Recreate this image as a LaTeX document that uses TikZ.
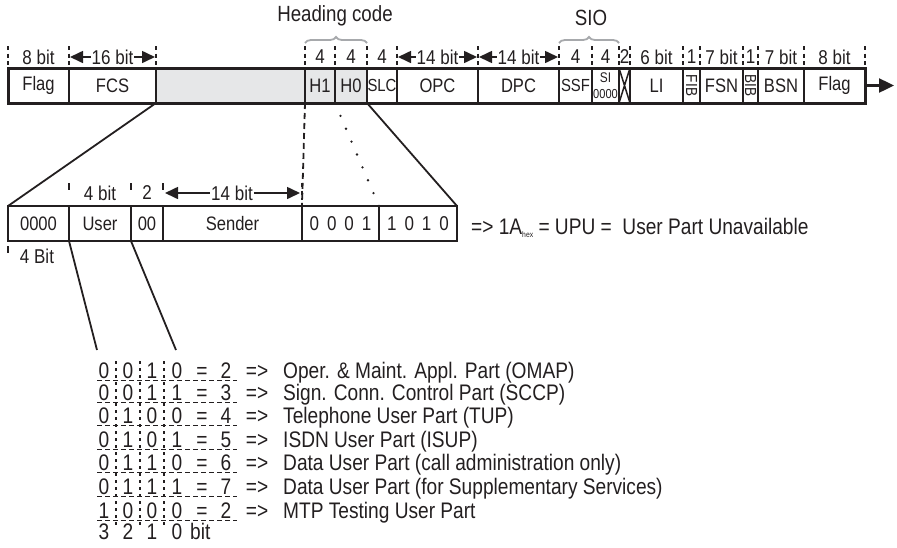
\documentclass[tikz,border=0pt]{standalone}
\usepackage{fontspec}
\setmainfont{Liberation Sans}[FakeStretch=0.85]
\usepackage{graphicx}
\usetikzlibrary{arrows.meta,decorations.pathreplacing}
\definecolor{ink}{HTML}{231F20}
\definecolor{lgray}{HTML}{E6E7E8}
\definecolor{brc}{HTML}{A7A9AC}
\newcommand{\fs}[1]{\fontsize{#1}{#1}\selectfont}
\begin{document}
\begin{tikzpicture}[x=1pt,y=-1pt,
 fld/.style={draw=ink,line width=2.2pt,fill=white,inner sep=0pt,outer sep=0pt,minimum height=35pt,anchor=west,font=\fs{19.5},text=ink},
 gfld/.style={fld,fill=lgray},
 lbl/.style={font=\fs{20},text=ink,inner sep=1pt},
 tk/.style={draw=ink,line width=1.7pt,dash pattern=on 4pt off 3.5pt},
 stk/.style={draw=ink,line width=1.3pt},
 dimar/.style={draw=ink,line width=1.6pt,-{Triangle[length=13pt,width=12pt]}},
 lst/.style={font=\fs{22.5},text=ink,inner sep=0pt,anchor=base},
 conn/.style={draw=ink,line width=1.8pt},
 ]
\useasboundingbox (0,0) rectangle (897,547);

% ---------- top frame ----------
\node[fld,minimum width=61pt] (flagA) at (8,85.5) {Flag};
\node[fld,minimum width=87pt] (fcs) at (69,85.5) {FCS};
\node[gfld,minimum width=149pt] (gray) at (156,85.5) {};
\node[gfld,minimum width=30pt] (h1) at (305,85.5) {H1};
\node[gfld,minimum width=32pt] (h0) at (335,85.5) {H0};
\node[fld,minimum width=30pt,font=\fs{17.5}] (slc) at (367,85.5) {SLC};
\node[fld,minimum width=81pt] (opc) at (397,85.5) {OPC};
\node[fld,minimum width=81pt] (dpc) at (478,85.5) {DPC};
\node[fld,minimum width=33pt,font=\fs{17.5}] (ssf) at (559,85.5) {SSF};
\node[fld,minimum width=27pt,align=center] (si) at (592,85.5) {\fs{14}SI\\[-3pt]\fs{13}0000};
\node[fld,minimum width=11pt] (xb) at (619,85.5) {};
\draw[ink,line width=1.5pt] (xb.north west) -- (xb.south east) (xb.north east) -- (xb.south west);
\node[fld,minimum width=53pt] (li) at (630,85.5) {LI};
\node[fld,minimum width=17pt] (fib) at (683,85.5) {\rotatebox{-90}{\fs{16}FIB}};
\node[fld,minimum width=43pt] (fsn) at (700,85.5) {FSN};
\node[fld,minimum width=15pt] (bib) at (743,85.5) {\rotatebox{-90}{\fs{16}BIB}};
\node[fld,minimum width=46pt] (bsn) at (758,85.5) {BSN};
\node[fld,minimum width=61pt] (flagB) at (804,85.5) {Flag};
\draw[ink,line width=3pt] (flagA.north west) rectangle (flagB.south east);
\coordinate (arrEnd) at (894,85.5);
\draw[ink,line width=2.4pt,-{Triangle[length=15pt,width=14pt]}] (flagB.east) -- (arrEnd);

% ticks and bit labels
\foreach \x in {8,69,156,305,335,367,397,478,559,592,619,630,683,700,743,758,804,865}
  \draw[tk] (\x,46) -- (\x,65);
\node[lbl] (t8a) at (38.5,57) {8 bit};
\node[lbl] (t16) at (112.5,57) {16 bit};
\draw[dimar] (t16.west) -- (70,57);
\draw[dimar] (t16.east) -- (155,57);
\node[lbl] (t4a) at (320,57) {4};
\node[lbl] (t4b) at (351,57) {4};
\node[lbl] (t4c) at (382,57) {4};
\node[lbl] (t14a) at (437.5,57) {14 bit};
\draw[dimar] (t14a.west) -- (398,57);
\draw[dimar] (t14a.east) -- (477,57);
\node[lbl] (t14b) at (518.5,57) {14 bit};
\draw[dimar] (t14b.west) -- (479,57);
\draw[dimar] (t14b.east) -- (558,57);
\node[lbl] (t4d) at (575.5,57) {4};
\node[lbl] (t4e) at (605.5,57) {4};
\node[lbl] (t2) at (624.5,57) {2};
\node[lbl] (t6) at (656.5,57) {6 bit};
\node[lbl] (t1a) at (691.5,57) {1};
\node[lbl] (t7a) at (721.5,57) {7 bit};
\node[lbl] (t1b) at (750.5,57) {1};
\node[lbl] (t7b) at (781,57) {7 bit};
\node[lbl] (t8b) at (834.5,57) {8 bit};

% braces and headings
\draw[brc,line width=1.8pt,decorate,decoration={brace,amplitude=6pt}] (305,43) -- (367,43);
\draw[brc,line width=1.8pt,decorate,decoration={brace,amplitude=6pt}] (559,43) -- (619,43);
\node[lbl,font=\fs{22}] (hc) at (335,16) {Heading code};
\node[lbl,font=\fs{22}] (sio) at (591,18) {SIO};

% ---------- second row ----------
\node[fld,minimum width=61pt] (b0000) at (8,223.5) {0000};
\node[fld,minimum width=62pt] (user) at (69,223.5) {User};
\node[fld,minimum width=32pt] (b00) at (131,223.5) {00};
\node[fld,minimum width=139pt] (sender) at (163,223.5) {Sender};
\node[fld,minimum width=77pt,font=\fs{20}] (h1b) at (302,223.5) {0\hspace{8pt}0\hspace{8pt}0\hspace{8pt}1};
\node[fld,minimum width=78pt,font=\fs{20}] (h0b) at (379,223.5) {1\hspace{8pt}0\hspace{8pt}1\hspace{8pt}0};

\foreach \x in {69,131,163} \draw[stk] (\x,183) -- (\x,190);
\draw[tk] (302,183) -- (302,200);
\node[lbl] (u4) at (100,193) {4 bit};
\node[lbl] (u2) at (147,193) {2};
\node[lbl] (u14) at (232,193) {14 bit};
\draw[dimar] (u14.west) -- (165,193);
\draw[dimar] (u14.east) -- (300,193);
\draw[stk] (8,246) -- (8,253);
\node[lbl] (b4) at (37,256) {4 Bit};

% connectors
\draw[conn] (gray.south west) -- (b0000.north west);
\draw[conn,dash pattern=on 6pt off 4pt] (h1.south west) -- (h1b.north west);
\draw[ink,line width=2.6pt,line cap=round,dash pattern=on 0pt off 14pt] (h0.south west) -- (h0b.north west);
\draw[conn] (slc.south west) -- (h0b.north east);
\coordinate (uL) at (97,350);
\coordinate (uR) at (176,350);
\draw[conn] (user.south west) -- (uL);
\draw[conn] (user.south east) -- (uR);

% result text
\node[lst,anchor=west] (res) at (471,228) {=> 1A\raisebox{-3pt}{\fs{8}hex} = UPU =\ \ User Part Unavailable};

% ---------- list ----------
\foreach \i/\ya/\a/\b/\c/\d/\v/\t in {
  1/370/0/0/1/0/2/Oper. \& Maint. Appl. Part (OMAP),
  2/392/0/0/1/1/3/Sign. Conn. Control Part (SCCP),
  3/415/0/1/0/0/4/Telephone User Part (TUP),
  4/439/0/1/0/1/5/ISDN User Part (ISUP),
  5/462/0/1/1/0/6/Data User Part (call administration only),
  6/486/0/1/1/1/7/Data User Part (for Supplementary Services),
  7/510/1/0/0/0/2/MTP Testing User Part}{
  \node[lst] (r\i a) at (104,{\ya+8}) {\a};
  \node[lst] (r\i b) at (128,{\ya+8}) {\b};
  \node[lst] (r\i c) at (152,{\ya+8}) {\c};
  \node[lst] (r\i d) at (177,{\ya+8}) {\d};
  \node[lst] (r\i e) at (202,{\ya+8}) {=};
  \node[lst] (r\i v) at (226,{\ya+8}) {\v};
  \node[lst] (r\i g) at (257,{\ya+8}) {=>};
  \node[lst,anchor=base west] (r\i t) at (283,{\ya+8}) {\t};
  \draw[ink,line width=1.3pt,dash pattern=on 5pt off 3pt] (97,{\ya+10.5}) -- (237,{\ya+10.5});
}
\foreach \x in {116,140,164}
  \draw[ink,line width=1.3pt,dash pattern=on 3pt off 4pt] (\x,361) -- (\x,528);
\node[lst] (bb3) at (104,539) {3};
\node[lst] (bb2) at (128,539) {2};
\node[lst] (bb1) at (152,539) {1};
\node[lst] (bb0) at (177,539) {0};
\node[lst,anchor=base west] (bbt) at (190,539) {bit};
\end{tikzpicture}
\end{document}
